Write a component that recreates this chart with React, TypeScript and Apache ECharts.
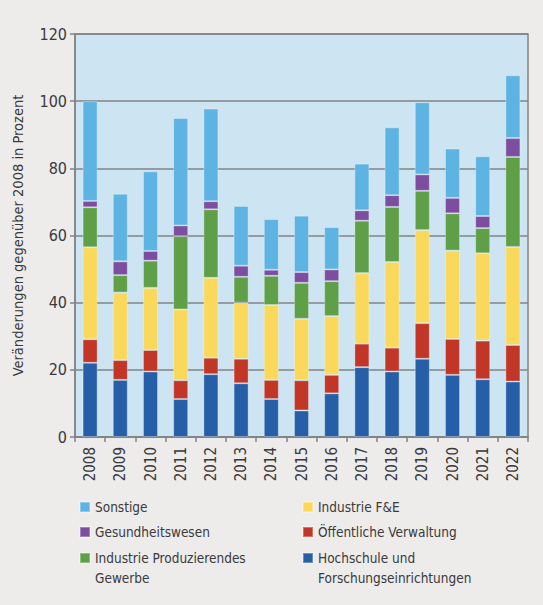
import { useEffect, useRef } from 'react';
import * as echarts from 'echarts';

const years = ['2008', '2009', '2010', '2011', '2012', '2013', '2014', '2015', '2016', '2017', '2018', '2019', '2020', '2021', '2022'];

// Werte je Sektor (gestapelt, von unten nach oben)
const hochschule = [22.1, 17.0, 19.5, 11.3, 18.7, 16.0, 11.3, 7.9, 13.0, 20.8, 19.5, 23.3, 18.5, 17.2, 16.5];
const verwaltung = [7.0, 5.9, 6.4, 5.6, 4.9, 7.3, 5.7, 9.0, 5.5, 7.0, 7.1, 10.6, 10.7, 11.5, 10.9];
const industrieFuE = [27.4, 20.1, 18.5, 21.1, 23.8, 16.7, 22.3, 18.3, 17.5, 21.0, 25.5, 27.7, 26.3, 26.0, 29.2];
const produzierend = [11.9, 5.2, 8.1, 21.8, 20.4, 7.7, 8.7, 10.7, 10.4, 15.6, 16.4, 11.7, 11.1, 7.5, 26.8];
const gesundheit = [1.9, 4.1, 2.9, 3.2, 2.4, 3.3, 1.8, 3.2, 3.5, 3.1, 3.5, 4.9, 4.6, 3.6, 5.6];
const sonstige = [29.7, 20.1, 23.7, 32.0, 27.6, 17.8, 15.1, 16.8, 12.6, 13.9, 20.2, 21.5, 14.7, 17.8, 18.7];

const FONT = '"Liberation Sans Narrow", "DejaVu Sans Condensed", "Roboto", sans-serif';
const TEXT = '#3a3a3c';
const AXIS = '#818386';

export default function App() {
  const chartRef = useRef<HTMLDivElement>(null);

  useEffect(() => {
    document.body.style.margin = '0';
    if (!chartRef.current) return;
    const chart = echarts.init(chartRef.current, undefined, { renderer: 'svg' });

    const bar = (name: string, data: number[], color: string) => ({
      name,
      type: 'bar' as const,
      stack: 'total',
      barWidth: 15,
      data,
      itemStyle: { color, borderColor: 'rgba(255,255,255,0.3)', borderWidth: 1 },
    });

    // eine Legende je Eintrag; bei zweizeiligen Einträgen sorgt eine leere
    // erste Zeile dafür, dass die erste Textzeile auf Höhe des Kästchens steht
    const legendItem = (name: string, left: number, top: number, label?: string) => ({
      orient: 'vertical',
      left,
      top,
      padding: 0,
      itemWidth: 10,
      itemHeight: 10,
      icon: 'rect',
      textStyle: { color: TEXT, fontSize: 13.5, fontFamily: FONT, lineHeight: label ? 20 : 23 },
      formatter: () => label ?? name,
      data: [name],
    });

    chart.setOption({
      animation: false,
      backgroundColor: '#edeceb',
      textStyle: { fontFamily: FONT },
      grid: {
        left: 75,
        top: 34,
        right: 15,
        bottom: 168,
        show: true,
        backgroundColor: '#cde5f3',
        borderColor: AXIS,
        borderWidth: 1.5,
      },
      legend: [
        legendItem('Sonstige', 79, 495.5),
        legendItem('Gesundheitswesen', 79, 520.5),
        legendItem('Industrie Produzierendes Gewerbe', 79, 528, '\nIndustrie Produzierendes\nGewerbe'),
        legendItem('Industrie F&E', 302, 495.5),
        legendItem('Öffentliche Verwaltung', 302, 520.5),
        legendItem('Hochschule und Forschungseinrichtungen', 302, 528, '\nHochschule und\nForschungseinrichtungen'),
      ],
      xAxis: {
        type: 'category',
        data: years,
        axisLine: { lineStyle: { color: AXIS, width: 1.5 } },
        axisTick: { show: true, length: 5, lineStyle: { color: AXIS, width: 1.5 } },
        axisLabel: { rotate: 90, color: TEXT, fontSize: 15, fontFamily: FONT, margin: 10 },
      },
      yAxis: {
        type: 'value',
        min: 0,
        max: 120,
        interval: 20,
        name: 'Veränderungen gegenüber 2008 in Prozent',
        nameLocation: 'middle',
        nameGap: 50,
        nameTextStyle: { color: TEXT, fontSize: 14.5, fontFamily: FONT },
        axisLine: { show: true, lineStyle: { color: AXIS, width: 1.5 } },
        axisTick: { show: true, length: 5, lineStyle: { color: AXIS, width: 1.5 } },
        axisLabel: { color: TEXT, fontSize: 16, fontFamily: FONT, margin: 8 },
        splitLine: { lineStyle: { color: AXIS, width: 1.5 } },
      },
      series: [
        bar('Hochschule und Forschungseinrichtungen', hochschule, '#265fa8'),
        bar('Öffentliche Verwaltung', verwaltung, '#c23628'),
        bar('Industrie F&E', industrieFuE, '#f9d85b'),
        bar('Industrie Produzierendes Gewerbe', produzierend, '#5e9f48'),
        bar('Gesundheitswesen', gesundheit, '#7d4e9f'),
        bar('Sonstige', sonstige, '#5db3e2'),
      ],
    });

    return () => chart.dispose();
  }, []);

  return <div ref={chartRef} style={{ width: 543, height: 605 }} />;
}
